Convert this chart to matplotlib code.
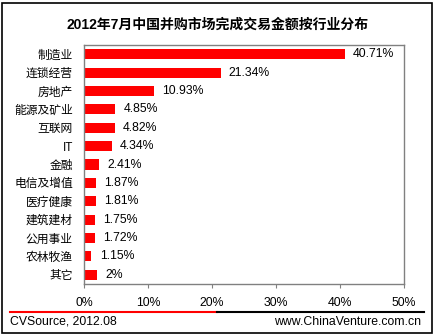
import matplotlib
matplotlib.use('Agg')
import matplotlib.pyplot as plt
from matplotlib.lines import Line2D
from matplotlib.patches import Rectangle

plt.rcParams['font.family'] = ['Liberation Sans', 'Noto Sans CJK SC', 'DejaVu Sans']

# 数据
categories = ['制造业', '连锁经营', '房地产', '能源及矿业', '互联网', 'IT', '金融',
              '电信及增值', '医疗健康', '建筑建材', '公用事业', '农林牧渔', '其它']
values = [40.71, 21.34, 10.93, 4.85, 4.82, 4.34, 2.41, 1.87, 1.81, 1.75, 1.72, 1.15, 2]
value_labels = ['40.71%', '21.34%', '10.93%', '4.85%', '4.82%', '4.34%', '2.41%',
                '1.87%', '1.81%', '1.75%', '1.72%', '1.15%', '2%']
xticks = [0, 10, 20, 30, 40, 50]
xtick_labels = ['0%', '10%', '20%', '30%', '40%', '50%']

fig = plt.figure(figsize=(4.35, 3.35), dpi=100)
ax = fig.add_axes([84/435, 1 - 284/335, 320/435, 239/335])

ypos = list(range(len(categories)))
ax.barh(ypos, values, height=0.55, color='#ff0000')
ax.set_ylim(len(categories) - 0.5, -0.5)
ax.set_xlim(0, 50)

for y, v, lab in zip(ypos, values, value_labels):
    ax.annotate(lab, (v, y), xytext=(6, 0), textcoords='offset points',
                va='center', ha='left', fontsize=8.8)

ax.set_yticks(ypos)
ax.set_yticklabels(categories, fontsize=8.5)
ax.tick_params(axis='y', length=0, pad=8)
ax.set_xticks(xticks)
ax.set_xticklabels(xtick_labels, fontsize=8.8)
ax.tick_params(axis='x', length=3, color='#808080', pad=6)
for s in ax.spines.values():
    s.set_color('#808080')
    s.set_linewidth(1)

fig.text(0.5, 1 - 25/335, '2012年7月中国并购市场完成交易金额按行业分布',
         ha='center', va='center', fontsize=10, fontweight='bold')

# 底部分隔线
fig.add_artist(Line2D([10/435, 217/435], [1 - 312/335] * 2, color='#ff0000', lw=1.5))
fig.add_artist(Line2D([217/435, 424/435], [1 - 312/335] * 2, color='black', lw=1.5))
fig.text(10/435, 1 - 322/335, 'CVSource, 2012.08', ha='left', va='center', fontsize=8.8)
fig.text(421/435, 1 - 322/335, 'www.ChinaVenture.com.cn', ha='right', va='center', fontsize=8.8)

# 外框
fig.add_artist(Rectangle((2/435, 2/335), 430/435, 330/335, fill=False,
                         edgecolor='black', lw=1.2, transform=fig.transFigure))

fig.savefig('out.png', dpi=100)
